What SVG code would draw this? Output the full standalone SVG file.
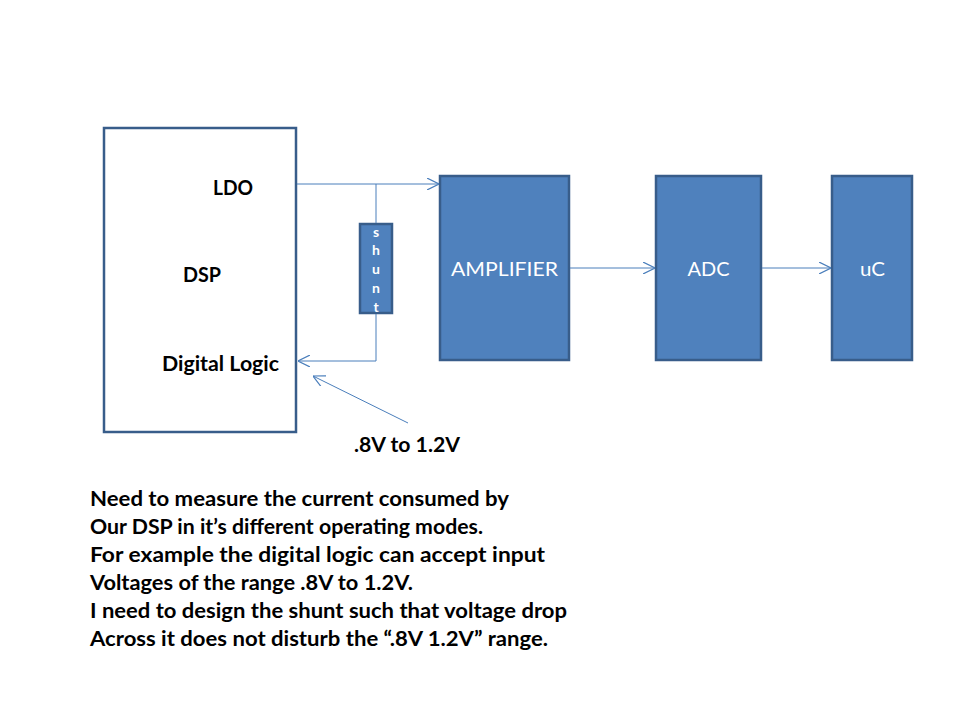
<svg xmlns="http://www.w3.org/2000/svg" width="960" height="720" viewBox="0 0 960 720">
<defs>
<style>
.box{fill:#4F81BD;stroke:#385D8A;stroke-width:2.5}
.wbox{fill:#FFFFFF;stroke:#385D8A;stroke-width:2.5}
.ln{fill:none;stroke:#4A7EBB;stroke-width:1}
.bk{font-family:Lato,"Open Sans","Liberation Sans",sans-serif;font-weight:bold;fill:#000}
.wt{font-family:Lato,"Open Sans","Liberation Sans",sans-serif;fill:#FFFFFF}
</style>
<marker id="ar" viewBox="0 0 10 10" refX="10" refY="5" markerWidth="12" markerHeight="12" markerUnits="userSpaceOnUse" orient="auto">
<path d="M0,0 L10,5 L0,10" fill="none" stroke="#4A7EBB" stroke-width="1"/>
</marker>
</defs>
<rect width="960" height="720" fill="#FFFFFF"/>
<g id="dsp">
<rect class="wbox" x="104" y="128" width="192" height="304"/>
<text class="bk" x="213" y="195" font-size="20" textLength="40" lengthAdjust="spacingAndGlyphs">LDO</text>
<text class="bk" x="183" y="282" font-size="20" textLength="38" lengthAdjust="spacingAndGlyphs">DSP</text>
<text class="bk" x="162" y="371" font-size="20" textLength="117" lengthAdjust="spacingAndGlyphs">Digital Logic</text>
</g>
<g id="shunt">
<rect class="box" x="360" y="224" width="32" height="89"/>
<g class="wt" font-size="14" font-weight="bold" text-anchor="middle">
<text x="376" y="237">s</text>
<text x="376" y="255">h</text>
<text x="376" y="274">u</text>
<text x="376" y="293">n</text>
<text x="376" y="312">t</text>
</g>
</g>
<g id="amplifier">
<rect class="box" x="440" y="176" width="129" height="184"/>
<text class="wt" x="504.5" y="276" font-size="20" text-anchor="middle" textLength="107" lengthAdjust="spacingAndGlyphs">AMPLIFIER</text>
</g>
<g id="adc">
<rect class="box" x="656" y="176" width="105" height="184"/>
<text class="wt" x="708.5" y="276" font-size="20" text-anchor="middle" textLength="42" lengthAdjust="spacingAndGlyphs">ADC</text>
</g>
<g id="uc">
<rect class="box" x="832" y="176" width="80" height="184"/>
<text class="wt" x="872.5" y="276" font-size="20" text-anchor="middle" textLength="25" lengthAdjust="spacingAndGlyphs">uC</text>
</g>
<g id="connectors">
<line class="ln" x1="297" y1="184" x2="439" y2="184" marker-end="url(#ar)"/>
<line class="ln" x1="376" y1="184" x2="376" y2="223"/>
<polyline class="ln" points="376,314 376,361 298,361" marker-end="url(#ar)"/>
<line class="ln" x1="570" y1="268" x2="655" y2="268" marker-end="url(#ar)"/>
<line class="ln" x1="762" y1="268" x2="831" y2="268" marker-end="url(#ar)"/>
<line class="ln" x1="408" y1="423" x2="313" y2="376" marker-end="url(#ar)"/>
</g>
<text class="bk" x="354" y="452" font-size="20" textLength="106" lengthAdjust="spacingAndGlyphs">.8V to 1.2V</text>
<g id="notes" class="bk" font-size="21.5">
<text x="90" y="506" textLength="419" lengthAdjust="spacingAndGlyphs">Need to measure the current consumed by</text>
<text x="90" y="534" textLength="393" lengthAdjust="spacingAndGlyphs">Our DSP in it’s different operating modes.</text>
<text x="90" y="562" textLength="455" lengthAdjust="spacingAndGlyphs">For example the digital logic can accept input</text>
<text x="90" y="590" textLength="323" lengthAdjust="spacingAndGlyphs">Voltages of the range .8V to 1.2V.</text>
<text x="90" y="618" textLength="477" lengthAdjust="spacingAndGlyphs">I need to design the shunt such that voltage drop</text>
<text x="90" y="646" textLength="458" lengthAdjust="spacingAndGlyphs">Across it does not disturb the “.8V 1.2V” range.</text>
</g>
</svg>
